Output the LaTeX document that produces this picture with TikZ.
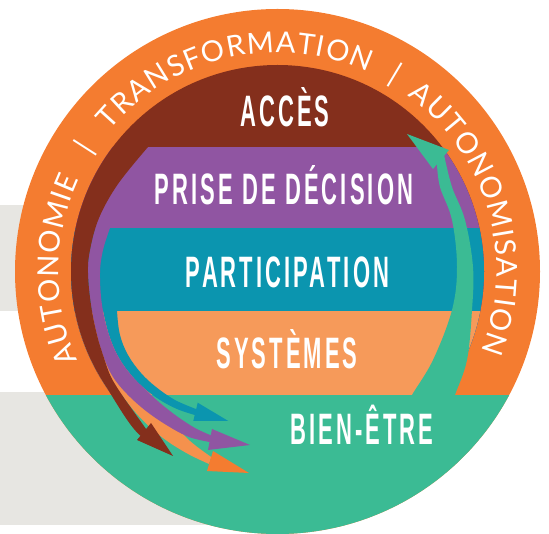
\documentclass[tikz,border=0pt]{standalone}
\usepackage{fontspec}
\usetikzlibrary{decorations.text}
\newfontfamily\bandfont[FakeStretch=0.5,LetterSpace=7]{Liberation Sans}
\newfontfamily\ringfont{Lato}
\definecolor{ringorange}{HTML}{F47C30}
\definecolor{accesbrown}{HTML}{842F1C}
\definecolor{decisionpurple}{HTML}{9055A2}
\definecolor{participteal}{HTML}{0B95AF}
\definecolor{systemorange}{HTML}{F69A5A}
\definecolor{systemarrow}{HTML}{F5914D}
\definecolor{bienvert}{HTML}{3BBB94}
\definecolor{fondgris}{HTML}{E7E6E2}

\begin{document}
\begin{tikzpicture}[x=1pt,y=1pt,
	bandlabel/.style={text=white,anchor=base,inner sep=0pt,font=\bandfont\bfseries\fontsize{44}{44}\selectfont},
	ringbar/.style={text=white,inner sep=0pt,font=\ringfont\fontsize{29}{29}\selectfont},
	ringword/.style={decorate,decoration={text along path,text align=fit to path,text color=white,
		text={|\ringfont\fontsize{29}{29}\selectfont|#1}}}]
	\useasboundingbox (0,0) rectangle (549,533);
	\coordinate (C) at (277.5,261.5);

	% gray bands behind the disc
	\fill[fondgris] (0,222) rectangle (280,328);
	\fill[fondgris] (0,8) rectangle (280,141);

	% outer ring and lower part
	\fill[ringorange] (C) circle[radius=262.5];
	\begin{scope}
		\clip (C) circle[radius=262.5];
		\fill[bienvert] (0,-5) rectangle (549,138);
	\end{scope}

	% the four bands
	\begin{scope}
		\clip (C) circle[radius=206.5];
		\fill[accesbrown] (60,138) rectangle (500,480);
		\fill[decisionpurple] (60,138) rectangle (500,386);
		\fill[participteal] (60,138) rectangle (500,305);
		\fill[systemorange] (60,138) rectangle (500,222);
	\end{scope}

	% arrows towards bien-etre
	\fill[systemarrow] plot[smooth,tension=.6] coordinates {(104,175) (111,156) (122,138) (136,120) (152,104) (170,90) (190,78) (209.1,69)}
		-- (211.2,76) -- plot[smooth,tension=.6] coordinates {(211.2,76) (190,92) (170,113) (150,130) (133,148) (120,168) (110,188)} -- cycle;
	\fill[ringorange] (213,82) -- (249,60) -- (207,62) -- cycle;

	\fill[participteal] plot[smooth,tension=.6] coordinates {(102,240) (102,228) (109,198) (119,175) (132,157) (145,144) (160,133) (177,124) (194.7,118)}
		-- (193.3,112) -- (228.3,112) -- (197.7,130.3) -- (196.2,123.9)
		-- plot[smooth,tension=.6] coordinates {(196.2,123.9) (175,133) (156,146) (141,160) (128,178) (120,198) (117,222) (117,240)} -- cycle;

	\fill[decisionpurple] plot[smooth,tension=.6] coordinates {(118,349) (99,315) (90,283) (88,260) (91,228) (97,198) (104,175) (113,156) (127,139) (146,122) (168,107) (189,96) (209.5,91)}
		-- (208,83) -- (250,88) -- (212,104) -- (210.8,97.7)
		-- plot[smooth,tension=.6] coordinates {(210.8,97.7) (195,105) (178,116) (160,130) (145,144) (132,157) (119,175) (109,198) (102,228) (100,260) (103,283) (110,305)} -- cycle;

	\fill[accesbrown] (C) ++(142.9:206.5) arc[start angle=142.9,end angle=213.3,radius=206.5]
		.. controls (115.9,131.4) and (129,107) .. (140.5,97.25) -- (137,93) -- (173,77) -- (151,110)
		-- plot[smooth,tension=.6] coordinates {(146.1,104) (134,121) (122,138) (111,156) (104,175) (97,198) (91,228) (88,260) (90,283) (99,315) (118,349) (148,386)} -- cycle;

	% arrow back to acces
	\fill[bienvert] plot[smooth,tension=.6] coordinates {(412,134) (412,138) (433,173) (452,223) (457,266) (452,313) (440,346) (437,368.75)}
		-- (433,364) -- (407,399) -- (449,383) -- (444.2,377.3)
		-- plot[smooth,tension=.6] coordinates {(444.2,377.3) (452,346) (465,313) (473,266) (472,223) (467,173) (455,138) (455,134)} -- cycle;

	% ring texts
	\path[ringword=AUTONOMIE] (C) ++(204:219) arc[start angle=204,end angle=155,radius=219];
	\path[ringword=TRANSFORMATION] (C) ++(140:219) arc[start angle=140,end angle=65.5,radius=219];
	\path[ringword=AUTONOMISATION] (C) ++(53.5:219) arc[start angle=53.5,end angle=-21.5,radius=219];
	\path (C) ++(147.3:229) node[ringbar,rotate=57.3] (bar1) {|};
	\path (C) ++(59:229) node[ringbar,rotate=-31] (bar2) {|};

	% band labels
	\node[bandlabel] (acces) at (285,406) {ACCÈS};
	\node[bandlabel] (decision) at (284,328) {PRISE DE DÉCISION};
	\node[bandlabel] (participation) at (287.5,245) {PARTICIPATION};
	\node[bandlabel] (systemes) at (287,164) {SYSTÈMES};
	\node[bandlabel] (bienetre) at (362,88) {BIEN-ÊTRE};
\end{tikzpicture}
\end{document}
